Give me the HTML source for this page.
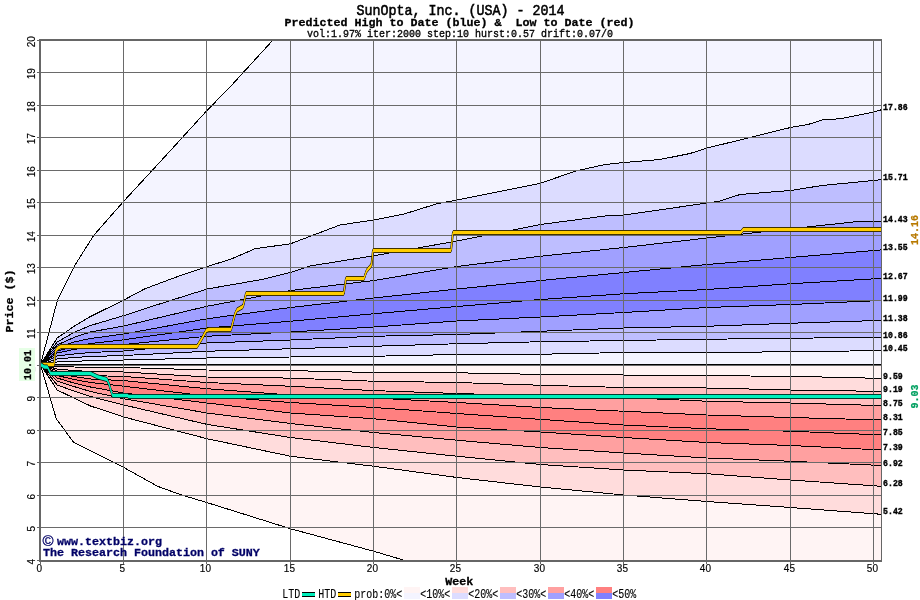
<!DOCTYPE html>
<html lang="en"><head><meta charset="utf-8"><title>SunOpta, Inc. (USA) - 2014</title>
<style>
html,body{margin:0;padding:0;background:#fff;}
body{width:920px;height:600px;overflow:hidden;}
svg{display:block;}
text{font-family:"Liberation Mono",monospace;white-space:pre;}
.t{font-family:"Liberation Sans",sans-serif;font-size:10px;stroke:#000;stroke-width:0.15px;}
.b{font-weight:bold;}
</style></head><body>
<svg width="920" height="600" viewBox="0 0 920 600">
<rect width="920" height="600" fill="#fff"/>
<defs><clipPath id="pc"><rect x="40" y="40" width="841.5" height="520.5"/></clipPath></defs>
<g clip-path="url(#pc)">
<g shape-rendering="crispEdges" stroke="none">
<polygon fill="#f4f4ff" points="40.50,364.50 57.50,300.00 75.00,265.00 94.00,235.00 123.50,201.50 171.00,150.00 206.50,111.00 230.00,87.00 273.00,40.00 290.00,22.00 881.50,22.00 881.50,364.50 40.5,364.50"/>
<polygon fill="#dcdcff" points="40.50,364.50 57.17,338.00 73.83,326.50 90.50,316.50 123.83,300.00 145.00,288.75 175.00,277.50 207.17,266.50 230.00,259.50 255.00,248.75 290.50,243.75 340.00,225.00 373.83,220.00 405.00,213.75 437.00,203.75 457.17,200.00 540.50,183.25 575.00,171.25 605.00,164.50 623.83,162.50 660.00,159.50 690.00,153.50 707.17,148.00 750.00,137.50 790.50,127.50 808.00,124.50 822.00,120.00 840.00,118.75 873.75,112.00 881.50,109.70 881.50,364.50 40.5,364.50"/>
<polygon fill="#bebeff" points="40.50,364.50 57.17,342.00 73.83,332.50 90.50,325.50 123.83,315.60 150.00,307.00 207.17,289.00 230.00,285.00 262.00,279.50 290.50,272.50 310.00,266.00 373.83,255.75 457.17,241.00 540.50,224.50 605.00,216.00 623.83,215.00 690.00,205.50 707.17,203.00 720.00,201.00 740.00,194.50 790.50,190.50 822.00,185.50 881.50,179.70 881.50,364.50 40.5,364.50"/>
<polygon fill="#a0a0ff" points="40.50,364.50 57.17,345.00 73.83,337.50 90.50,332.00 123.83,326.00 207.17,306.25 290.50,290.50 373.83,280.50 457.17,266.50 540.50,256.25 623.83,247.50 707.17,238.00 790.50,228.75 860.00,221.30 881.50,221.40 881.50,364.50 40.5,364.50"/>
<polygon fill="#8080ff" points="40.50,364.50 57.17,348.00 73.83,342.00 90.50,338.50 123.83,334.00 207.17,318.75 290.50,307.50 373.83,298.00 457.17,289.00 540.50,280.50 623.83,272.50 707.17,264.50 790.50,257.50 881.50,249.90 881.50,364.50 40.5,364.50"/>
<polygon fill="#8080ff" points="40.50,364.50 57.17,351.00 73.83,346.50 90.50,343.50 123.83,339.75 207.17,328.00 290.50,321.25 373.83,313.75 457.17,306.50 540.50,299.50 623.83,293.75 707.17,289.50 790.50,283.75 881.50,278.40 881.50,364.50 40.5,364.50"/>
<polygon fill="#a0a0ff" points="40.50,364.50 57.17,353.00 73.83,349.50 90.50,347.00 123.83,344.50 207.17,336.25 290.50,332.00 373.83,327.00 457.17,321.00 540.50,317.00 623.83,312.50 707.17,307.50 790.50,304.50 881.50,300.50 881.50,364.50 40.5,364.50"/>
<polygon fill="#bebeff" points="40.50,364.50 57.17,356.00 73.83,354.00 90.50,352.50 123.83,351.00 207.17,343.00 290.50,340.00 373.83,336.25 457.17,334.50 540.50,331.25 623.83,328.00 707.17,326.25 790.50,323.25 881.50,320.40 881.50,364.50 40.5,364.50"/>
<polygon fill="#dcdcff" points="40.50,364.50 57.17,359.00 73.83,357.50 90.50,356.50 123.83,355.50 207.17,351.25 290.50,348.75 373.83,346.25 457.17,343.75 540.50,341.75 623.83,340.50 707.17,339.25 790.50,338.25 881.50,337.30 881.50,364.50 40.5,364.50"/>
<polygon fill="#f4f4ff" points="40.50,364.50 57.17,362.00 73.83,361.50 90.50,360.50 123.83,360.00 207.17,358.00 290.50,357.00 373.83,356.25 457.17,354.50 540.50,354.25 623.83,352.50 707.17,352.50 790.50,351.75 881.50,350.60 881.50,364.50 40.5,364.50"/>
<polygon fill="#fff4f4" points="40.50,364.50 56.25,418.75 73.75,442.50 123.75,467.50 157.50,486.25 180.00,494.50 206.75,502.50 290.50,528.75 373.75,551.25 405.00,560.50 440.00,571.00 881.50,571.00 881.50,364.50 40.5,364.50"/>
<polygon fill="#ffdcdc" points="40.50,364.50 57.17,390.00 73.83,398.00 90.50,406.00 123.83,417.00 207.17,438.75 290.50,456.25 373.83,466.25 457.17,477.50 540.50,487.00 623.83,495.00 707.17,501.50 790.50,507.50 881.50,514.30 881.50,364.50 40.5,364.50"/>
<polygon fill="#ffbebe" points="40.50,364.50 57.17,385.00 73.83,391.00 90.50,396.50 123.83,405.00 207.17,424.40 290.50,437.50 373.83,447.50 457.17,456.25 540.50,464.50 623.83,470.00 707.17,473.75 790.50,480.00 881.50,486.30 881.50,364.50 40.5,364.50"/>
<polygon fill="#ffa0a0" points="40.50,364.50 57.17,381.00 73.83,386.50 90.50,391.50 123.83,398.75 207.17,413.00 290.50,423.50 373.83,432.50 457.17,440.25 540.50,447.50 623.83,453.00 707.17,458.00 790.50,461.25 881.50,465.50 881.50,364.50 40.5,364.50"/>
<polygon fill="#ff8080" points="40.50,364.50 57.17,378.00 73.83,383.00 90.50,387.00 123.83,393.00 207.17,403.00 290.50,413.00 373.83,418.75 457.17,427.00 540.50,432.00 623.83,437.50 707.17,442.50 790.50,445.50 881.50,450.00 881.50,364.50 40.5,364.50"/>
<polygon fill="#ff8080" points="40.50,364.50 57.17,375.50 73.83,379.50 90.50,382.50 123.83,386.25 207.17,396.00 290.50,402.50 373.83,407.50 457.17,413.50 540.50,419.40 623.83,425.00 707.17,428.75 790.50,431.25 881.50,434.90 881.50,364.50 40.5,364.50"/>
<polygon fill="#ffa0a0" points="40.50,364.50 57.17,373.00 73.83,376.50 90.50,379.00 123.83,380.60 207.17,388.75 290.50,395.00 373.83,398.00 457.17,402.50 540.50,407.50 623.83,411.25 707.17,415.00 790.50,417.50 881.50,420.00 881.50,364.50 40.5,364.50"/>
<polygon fill="#ffbebe" points="40.50,364.50 57.17,371.00 73.83,373.50 90.50,375.50 123.83,376.50 207.17,382.50 290.50,386.25 373.83,390.60 457.17,393.50 540.50,396.00 623.83,397.50 707.17,401.25 790.50,403.00 881.50,405.60 881.50,364.50 40.5,364.50"/>
<polygon fill="#ffdcdc" points="40.50,364.50 57.17,369.00 73.83,370.50 90.50,371.50 123.83,372.00 207.17,377.00 290.50,378.10 373.83,381.25 457.17,382.50 540.50,385.25 623.83,387.50 707.17,388.00 790.50,390.00 881.50,391.40 881.50,364.50 40.5,364.50"/>
<polygon fill="#fff4f4" points="40.50,364.50 57.17,366.50 73.83,367.00 90.50,367.30 123.83,367.50 207.17,370.00 290.50,370.60 373.83,372.50 457.17,372.80 540.50,374.40 623.83,375.00 707.17,375.75 790.50,376.25 881.50,378.40 881.50,364.50 40.5,364.50"/>
</g>
<g shape-rendering="crispEdges" stroke="#000" stroke-width="1" fill="none">
<polyline points="40.50,364.50 57.50,300.00 75.00,265.00 94.00,235.00 123.50,201.50 171.00,150.00 206.50,111.00 230.00,87.00 273.00,40.00 290.00,22.00 881.50,22.00"/>
<polyline points="40.50,364.50 57.17,338.00 73.83,326.50 90.50,316.50 123.83,300.00 145.00,288.75 175.00,277.50 207.17,266.50 230.00,259.50 255.00,248.75 290.50,243.75 340.00,225.00 373.83,220.00 405.00,213.75 437.00,203.75 457.17,200.00 540.50,183.25 575.00,171.25 605.00,164.50 623.83,162.50 660.00,159.50 690.00,153.50 707.17,148.00 750.00,137.50 790.50,127.50 808.00,124.50 822.00,120.00 840.00,118.75 873.75,112.00 881.50,109.70"/>
<polyline points="40.50,364.50 57.17,342.00 73.83,332.50 90.50,325.50 123.83,315.60 150.00,307.00 207.17,289.00 230.00,285.00 262.00,279.50 290.50,272.50 310.00,266.00 373.83,255.75 457.17,241.00 540.50,224.50 605.00,216.00 623.83,215.00 690.00,205.50 707.17,203.00 720.00,201.00 740.00,194.50 790.50,190.50 822.00,185.50 881.50,179.70"/>
<polyline points="40.50,364.50 57.17,345.00 73.83,337.50 90.50,332.00 123.83,326.00 207.17,306.25 290.50,290.50 373.83,280.50 457.17,266.50 540.50,256.25 623.83,247.50 707.17,238.00 790.50,228.75 860.00,221.30 881.50,221.40"/>
<polyline points="40.50,364.50 57.17,348.00 73.83,342.00 90.50,338.50 123.83,334.00 207.17,318.75 290.50,307.50 373.83,298.00 457.17,289.00 540.50,280.50 623.83,272.50 707.17,264.50 790.50,257.50 881.50,249.90"/>
<polyline points="40.50,364.50 57.17,351.00 73.83,346.50 90.50,343.50 123.83,339.75 207.17,328.00 290.50,321.25 373.83,313.75 457.17,306.50 540.50,299.50 623.83,293.75 707.17,289.50 790.50,283.75 881.50,278.40"/>
<polyline points="40.50,364.50 57.17,353.00 73.83,349.50 90.50,347.00 123.83,344.50 207.17,336.25 290.50,332.00 373.83,327.00 457.17,321.00 540.50,317.00 623.83,312.50 707.17,307.50 790.50,304.50 881.50,300.50"/>
<polyline points="40.50,364.50 57.17,356.00 73.83,354.00 90.50,352.50 123.83,351.00 207.17,343.00 290.50,340.00 373.83,336.25 457.17,334.50 540.50,331.25 623.83,328.00 707.17,326.25 790.50,323.25 881.50,320.40"/>
<polyline points="40.50,364.50 57.17,359.00 73.83,357.50 90.50,356.50 123.83,355.50 207.17,351.25 290.50,348.75 373.83,346.25 457.17,343.75 540.50,341.75 623.83,340.50 707.17,339.25 790.50,338.25 881.50,337.30"/>
<polyline points="40.50,364.50 57.17,362.00 73.83,361.50 90.50,360.50 123.83,360.00 207.17,358.00 290.50,357.00 373.83,356.25 457.17,354.50 540.50,354.25 623.83,352.50 707.17,352.50 790.50,351.75 881.50,350.60"/>
<polyline points="40.50,364.50 56.25,418.75 73.75,442.50 123.75,467.50 157.50,486.25 180.00,494.50 206.75,502.50 290.50,528.75 373.75,551.25 405.00,560.50 440.00,571.00 881.50,571.00"/>
<polyline points="40.50,364.50 57.17,390.00 73.83,398.00 90.50,406.00 123.83,417.00 207.17,438.75 290.50,456.25 373.83,466.25 457.17,477.50 540.50,487.00 623.83,495.00 707.17,501.50 790.50,507.50 881.50,514.30"/>
<polyline points="40.50,364.50 57.17,385.00 73.83,391.00 90.50,396.50 123.83,405.00 207.17,424.40 290.50,437.50 373.83,447.50 457.17,456.25 540.50,464.50 623.83,470.00 707.17,473.75 790.50,480.00 881.50,486.30"/>
<polyline points="40.50,364.50 57.17,381.00 73.83,386.50 90.50,391.50 123.83,398.75 207.17,413.00 290.50,423.50 373.83,432.50 457.17,440.25 540.50,447.50 623.83,453.00 707.17,458.00 790.50,461.25 881.50,465.50"/>
<polyline points="40.50,364.50 57.17,378.00 73.83,383.00 90.50,387.00 123.83,393.00 207.17,403.00 290.50,413.00 373.83,418.75 457.17,427.00 540.50,432.00 623.83,437.50 707.17,442.50 790.50,445.50 881.50,450.00"/>
<polyline points="40.50,364.50 57.17,375.50 73.83,379.50 90.50,382.50 123.83,386.25 207.17,396.00 290.50,402.50 373.83,407.50 457.17,413.50 540.50,419.40 623.83,425.00 707.17,428.75 790.50,431.25 881.50,434.90"/>
<polyline points="40.50,364.50 57.17,373.00 73.83,376.50 90.50,379.00 123.83,380.60 207.17,388.75 290.50,395.00 373.83,398.00 457.17,402.50 540.50,407.50 623.83,411.25 707.17,415.00 790.50,417.50 881.50,420.00"/>
<polyline points="40.50,364.50 57.17,371.00 73.83,373.50 90.50,375.50 123.83,376.50 207.17,382.50 290.50,386.25 373.83,390.60 457.17,393.50 540.50,396.00 623.83,397.50 707.17,401.25 790.50,403.00 881.50,405.60"/>
<polyline points="40.50,364.50 57.17,369.00 73.83,370.50 90.50,371.50 123.83,372.00 207.17,377.00 290.50,378.10 373.83,381.25 457.17,382.50 540.50,385.25 623.83,387.50 707.17,388.00 790.50,390.00 881.50,391.40"/>
<polyline points="40.50,364.50 57.17,366.50 73.83,367.00 90.50,367.30 123.83,367.50 207.17,370.00 290.50,370.60 373.83,372.50 457.17,372.80 540.50,374.40 623.83,375.00 707.17,375.75 790.50,376.25 881.50,378.40"/>
<line x1="40" y1="364.5" x2="882" y2="364.5" stroke-width="2"/>
</g>
<g shape-rendering="crispEdges" stroke="#6a6a6a" stroke-width="1" fill="none">
<line x1="123.5" y1="40" x2="123.5" y2="561"/>
<line x1="206.5" y1="40" x2="206.5" y2="561"/>
<line x1="290.5" y1="40" x2="290.5" y2="561"/>
<line x1="373.5" y1="40" x2="373.5" y2="561"/>
<line x1="456.5" y1="40" x2="456.5" y2="561"/>
<line x1="540.5" y1="40" x2="540.5" y2="561"/>
<line x1="623.5" y1="40" x2="623.5" y2="561"/>
<line x1="706.5" y1="40" x2="706.5" y2="561"/>
<line x1="790.5" y1="40" x2="790.5" y2="561"/>
<line x1="873.5" y1="40" x2="873.5" y2="561"/>
<line x1="40" y1="527.5" x2="882" y2="527.5"/>
<line x1="40" y1="495.5" x2="882" y2="495.5"/>
<line x1="40" y1="462.5" x2="882" y2="462.5"/>
<line x1="40" y1="430.5" x2="882" y2="430.5"/>
<line x1="40" y1="397.5" x2="882" y2="397.5"/>
<line x1="40" y1="365.5" x2="882" y2="365.5"/>
<line x1="40" y1="332.5" x2="882" y2="332.5"/>
<line x1="40" y1="300.5" x2="882" y2="300.5"/>
<line x1="40" y1="267.5" x2="882" y2="267.5"/>
<line x1="40" y1="235.5" x2="882" y2="235.5"/>
<line x1="40" y1="202.5" x2="882" y2="202.5"/>
<line x1="40" y1="170.5" x2="882" y2="170.5"/>
<line x1="40" y1="137.5" x2="882" y2="137.5"/>
<line x1="40" y1="105.5" x2="882" y2="105.5"/>
<line x1="40" y1="72.5" x2="882" y2="72.5"/>
</g>
<g>
<polygon points="40.50,361.90 54.00,361.90 55.50,348.40 58.00,345.40 61.00,343.90 197.00,343.90 202.50,334.90 206.25,327.90 208.75,326.90 231.00,326.90 235.00,311.40 237.00,307.40 243.00,303.90 245.00,295.40 246.00,290.90 343.75,290.90 346.00,275.90 364.00,275.90 366.50,268.40 371.50,262.40 373.00,247.90 451.00,247.90 453.00,229.90 740.75,229.90 743.25,226.90 881.00,226.90 881.00,232.10 743.25,232.10 740.75,235.10 453.00,235.10 451.00,253.10 373.00,253.10 371.50,267.60 366.50,273.60 364.00,281.10 346.00,281.10 343.75,296.10 246.00,296.10 245.00,300.60 243.00,309.10 237.00,312.60 235.00,316.60 231.00,332.10 208.75,332.10 206.25,333.10 202.50,340.10 197.00,349.10 61.00,349.10 58.00,350.60 55.50,353.60 54.00,367.10 40.50,367.10" fill="#000"/>
<polyline points="40.50,364.50 54.00,364.50 55.50,351.00 58.00,348.00 61.00,346.50 197.00,346.50 202.50,337.50 206.25,330.50 208.75,329.50 231.00,329.50 235.00,314.00 237.00,310.00 243.00,306.50 245.00,298.00 246.00,293.50 343.75,293.50 346.00,278.50 364.00,278.50 366.50,271.00 371.50,265.00 373.00,250.50 451.00,250.50 453.00,232.50 740.75,232.50 743.25,229.50 881.00,229.50" fill="none" stroke="#000" stroke-width="2"/>
<polygon points="40.50,362.80 54.00,362.80 55.50,349.30 58.00,346.30 61.00,344.80 197.00,344.80 202.50,335.80 206.25,328.80 208.75,327.80 231.00,327.80 235.00,312.30 237.00,308.30 243.00,304.80 245.00,296.30 246.00,291.80 343.75,291.80 346.00,276.80 364.00,276.80 366.50,269.30 371.50,263.30 373.00,248.80 451.00,248.80 453.00,230.80 740.75,230.80 743.25,227.80 881.00,227.80 881.00,231.20 743.25,231.20 740.75,234.20 453.00,234.20 451.00,252.20 373.00,252.20 371.50,266.70 366.50,272.70 364.00,280.20 346.00,280.20 343.75,295.20 246.00,295.20 245.00,299.70 243.00,308.20 237.00,311.70 235.00,315.70 231.00,331.20 208.75,331.20 206.25,332.20 202.50,339.20 197.00,348.20 61.00,348.20 58.00,349.70 55.50,352.70 54.00,366.20 40.50,366.20" fill="#ffcc00"/>
<polyline points="40.50,364.50 54.00,364.50 55.50,351.00 58.00,348.00 61.00,346.50 197.00,346.50 202.50,337.50 206.25,330.50 208.75,329.50 231.00,329.50 235.00,314.00 237.00,310.00 243.00,306.50 245.00,298.00 246.00,293.50 343.75,293.50 346.00,278.50 364.00,278.50 366.50,271.00 371.50,265.00 373.00,250.50 451.00,250.50 453.00,232.50 740.75,232.50 743.25,229.50 881.00,229.50" fill="none" stroke="#ffcc00" stroke-width="1"/>
<polygon points="40.50,361.90 44.40,364.40 47.50,364.40 50.60,370.90 90.60,370.90 98.00,374.40 107.00,376.90 109.00,381.40 112.50,392.90 127.50,392.90 128.50,393.90 881.00,393.90 881.00,399.10 128.50,399.10 127.50,398.10 112.50,398.10 109.00,386.60 107.00,382.10 98.00,379.60 90.60,376.10 50.60,376.10 47.50,369.60 44.40,369.60 40.50,367.10" fill="#000"/>
<polyline points="40.50,364.50 44.40,367.00 47.50,367.00 50.60,373.50 90.60,373.50 98.00,377.00 107.00,379.50 109.00,384.00 112.50,395.50 127.50,395.50 128.50,396.50 881.00,396.50" fill="none" stroke="#000" stroke-width="2"/>
<polygon points="40.50,362.80 44.40,365.30 47.50,365.30 50.60,371.80 90.60,371.80 98.00,375.30 107.00,377.80 109.00,382.30 112.50,393.80 127.50,393.80 128.50,394.80 881.00,394.80 881.00,398.20 128.50,398.20 127.50,397.20 112.50,397.20 109.00,385.70 107.00,381.20 98.00,378.70 90.60,375.20 50.60,375.20 47.50,368.70 44.40,368.70 40.50,366.20" fill="#00eebb"/>
<polyline points="40.50,364.50 44.40,367.00 47.50,367.00 50.60,373.50 90.60,373.50 98.00,377.00 107.00,379.50 109.00,384.00 112.50,395.50 127.50,395.50 128.50,396.50 881.00,396.50" fill="none" stroke="#00eebb" stroke-width="1"/>
</g>
</g>
<g shape-rendering="crispEdges" fill="#666">
<rect x="39" y="39" width="843" height="2"/>
<rect x="39" y="39" width="2" height="523"/>
<rect x="39" y="560" width="843" height="2"/>
<rect x="881" y="39" width="1" height="523"/>
<rect x="37" y="560" width="3" height="1"/>
<rect x="37" y="527" width="3" height="1"/>
<rect x="37" y="495" width="3" height="1"/>
<rect x="37" y="462" width="3" height="1"/>
<rect x="37" y="430" width="3" height="1"/>
<rect x="37" y="397" width="3" height="1"/>
<rect x="37" y="365" width="3" height="1"/>
<rect x="37" y="332" width="3" height="1"/>
<rect x="37" y="300" width="3" height="1"/>
<rect x="37" y="267" width="3" height="1"/>
<rect x="37" y="235" width="3" height="1"/>
<rect x="37" y="202" width="3" height="1"/>
<rect x="37" y="170" width="3" height="1"/>
<rect x="37" y="137" width="3" height="1"/>
<rect x="37" y="105" width="3" height="1"/>
<rect x="37" y="72" width="3" height="1"/>
<rect x="37" y="40" width="3" height="1"/>
<rect x="37" y="365" width="3" height="1"/>
<rect x="40" y="561" width="1" height="3"/>
<rect x="123" y="561" width="1" height="3"/>
<rect x="206" y="561" width="1" height="3"/>
<rect x="290" y="561" width="1" height="3"/>
<rect x="373" y="561" width="1" height="3"/>
<rect x="456" y="561" width="1" height="3"/>
<rect x="540" y="561" width="1" height="3"/>
<rect x="623" y="561" width="1" height="3"/>
<rect x="706" y="561" width="1" height="3"/>
<rect x="790" y="561" width="1" height="3"/>
<rect x="873" y="561" width="1" height="3"/>
</g>
<text transform="translate(460.5,14.6) scale(1,1.12)" font-size="13.33" text-anchor="middle" stroke="#000" stroke-width="0.5">SunOpta, Inc. (USA) - 2014</text>
<text transform="translate(459.5,26.1) scale(1,0.95)" font-size="11.67" font-weight="bold" text-anchor="middle" stroke="#000" stroke-width="0.3">Predicted High to Date (blue) &amp;  Low to Date (red)</text>
<text transform="translate(460,36.6) scale(1,1.06)" font-size="10" text-anchor="middle" stroke="#000" stroke-width="0.3">vol:1.97% iter:2000 step:10 hurst:0.57 drift:0.07/0</text>
<text transform="translate(13.3,301) rotate(-90) scale(1,0.88)" font-size="11.67" font-weight="bold" text-anchor="middle" stroke="#000" stroke-width="0.3">Price ($)</text>
<text transform="translate(459.3,584.8) scale(1,0.91)" font-size="11.67" font-weight="bold" text-anchor="middle" stroke="#000" stroke-width="0.3">Week</text>
<text transform="translate(39.4,571.6)" class="t" text-anchor="middle">0</text>
<text transform="translate(122.4,571.6)" class="t" text-anchor="middle">5</text>
<text transform="translate(205.4,571.6)" class="t" text-anchor="middle">10</text>
<text transform="translate(289.4,571.6)" class="t" text-anchor="middle">15</text>
<text transform="translate(372.4,571.6)" class="t" text-anchor="middle">20</text>
<text transform="translate(455.4,571.6)" class="t" text-anchor="middle">25</text>
<text transform="translate(539.4,571.6)" class="t" text-anchor="middle">30</text>
<text transform="translate(622.4,571.6)" class="t" text-anchor="middle">35</text>
<text transform="translate(705.4,571.6)" class="t" text-anchor="middle">40</text>
<text transform="translate(789.4,571.6)" class="t" text-anchor="middle">45</text>
<text transform="translate(872.4,571.6)" class="t" text-anchor="middle">50</text>
<text transform="translate(34.5,561.75) rotate(-90)" class="t" text-anchor="middle">4</text>
<text transform="translate(34.5,528.75) rotate(-90)" class="t" text-anchor="middle">5</text>
<text transform="translate(34.5,496.75) rotate(-90)" class="t" text-anchor="middle">6</text>
<text transform="translate(34.5,463.75) rotate(-90)" class="t" text-anchor="middle">7</text>
<text transform="translate(34.5,431.75) rotate(-90)" class="t" text-anchor="middle">8</text>
<text transform="translate(34.5,398.75) rotate(-90)" class="t" text-anchor="middle">9</text>
<text transform="translate(34.5,366.75) rotate(-90)" class="t" text-anchor="middle">10</text>
<text transform="translate(34.5,333.75) rotate(-90)" class="t" text-anchor="middle">11</text>
<text transform="translate(34.5,301.75) rotate(-90)" class="t" text-anchor="middle">12</text>
<text transform="translate(34.5,268.75) rotate(-90)" class="t" text-anchor="middle">13</text>
<text transform="translate(34.5,236.75) rotate(-90)" class="t" text-anchor="middle">14</text>
<text transform="translate(34.5,203.75) rotate(-90)" class="t" text-anchor="middle">15</text>
<text transform="translate(34.5,171.75) rotate(-90)" class="t" text-anchor="middle">16</text>
<text transform="translate(34.5,138.75) rotate(-90)" class="t" text-anchor="middle">17</text>
<text transform="translate(34.5,106.75) rotate(-90)" class="t" text-anchor="middle">18</text>
<text transform="translate(34.5,73.75) rotate(-90)" class="t" text-anchor="middle">19</text>
<text transform="translate(34.5,41.75) rotate(-90)" class="t" text-anchor="middle">20</text>
<text transform="translate(883.1,110) scale(1,1.05)" font-size="8.2" font-weight="bold" stroke="#000" stroke-width="0.35">17.86</text>
<text transform="translate(883.1,180) scale(1,1.05)" font-size="8.2" font-weight="bold" stroke="#000" stroke-width="0.35">15.71</text>
<text transform="translate(883.1,222) scale(1,1.05)" font-size="8.2" font-weight="bold" stroke="#000" stroke-width="0.35">14.43</text>
<text transform="translate(883.1,250) scale(1,1.05)" font-size="8.2" font-weight="bold" stroke="#000" stroke-width="0.35">13.55</text>
<text transform="translate(883.1,279) scale(1,1.05)" font-size="8.2" font-weight="bold" stroke="#000" stroke-width="0.35">12.67</text>
<text transform="translate(883.1,301) scale(1,1.05)" font-size="8.2" font-weight="bold" stroke="#000" stroke-width="0.35">11.99</text>
<text transform="translate(883.1,321) scale(1,1.05)" font-size="8.2" font-weight="bold" stroke="#000" stroke-width="0.35">11.38</text>
<text transform="translate(883.1,338) scale(1,1.05)" font-size="8.2" font-weight="bold" stroke="#000" stroke-width="0.35">10.86</text>
<text transform="translate(883.1,351) scale(1,1.05)" font-size="8.2" font-weight="bold" stroke="#000" stroke-width="0.35">10.45</text>
<text transform="translate(883.1,379) scale(1,1.05)" font-size="8.2" font-weight="bold" stroke="#000" stroke-width="0.35">9.59</text>
<text transform="translate(883.1,392) scale(1,1.05)" font-size="8.2" font-weight="bold" stroke="#000" stroke-width="0.35">9.19</text>
<text transform="translate(883.1,406) scale(1,1.05)" font-size="8.2" font-weight="bold" stroke="#000" stroke-width="0.35">8.75</text>
<text transform="translate(883.1,420) scale(1,1.05)" font-size="8.2" font-weight="bold" stroke="#000" stroke-width="0.35">8.31</text>
<text transform="translate(883.1,435) scale(1,1.05)" font-size="8.2" font-weight="bold" stroke="#000" stroke-width="0.35">7.85</text>
<text transform="translate(883.1,450) scale(1,1.05)" font-size="8.2" font-weight="bold" stroke="#000" stroke-width="0.35">7.39</text>
<text transform="translate(883.1,466) scale(1,1.05)" font-size="8.2" font-weight="bold" stroke="#000" stroke-width="0.35">6.92</text>
<text transform="translate(883.1,486) scale(1,1.05)" font-size="8.2" font-weight="bold" stroke="#000" stroke-width="0.35">6.28</text>
<text transform="translate(883.1,514) scale(1,1.05)" font-size="8.2" font-weight="bold" stroke="#000" stroke-width="0.35">5.42</text>
<text transform="translate(918.3,230) rotate(-90) scale(1,1.08)" font-size="10" font-weight="bold" text-anchor="middle" fill="#b87a00" stroke="#b87a00" stroke-width="0.25">14.16</text>
<text transform="translate(918.3,396.5) rotate(-90) scale(1,1.08)" font-size="10" font-weight="bold" text-anchor="middle" fill="#00a060" stroke="#00a060" stroke-width="0.25">9.03</text>
<rect x="19" y="348" width="16" height="33" fill="#e6ffe6"/>
<text transform="translate(31.3,365) rotate(-90) scale(1,1.08)" font-size="10" font-weight="bold" text-anchor="middle" stroke="#000" stroke-width="0.25">10.01</text>
<text transform="translate(42.5,546.3)" style="font-family:'Liberation Sans',sans-serif" font-size="15" fill="#000066" stroke="#000066" stroke-width="0.3">©</text>
<text transform="translate(57,544.7)" font-size="11.67" font-weight="bold" fill="#000066" stroke="#000066" stroke-width="0.3">www.textbiz.org</text>
<text transform="translate(43,556.2)" font-size="11.67" font-weight="bold" fill="#000066" stroke="#000066" stroke-width="0.3">The Research Foundation of SUNY</text>
<text transform="translate(282.2,597.5) scale(1,1.22)" font-size="10" stroke="#000" stroke-width="0.1">LTD</text>
<text transform="translate(318.2,597.5) scale(1,1.22)" font-size="10" stroke="#000" stroke-width="0.1">HTD</text>
<text transform="translate(354.2,597.5) scale(1,1.22)" font-size="10" stroke="#000" stroke-width="0.1">prob:0%&lt;</text>
<g shape-rendering="crispEdges">
<rect x="302" y="592" width="13" height="5" fill="#000"/><rect x="302" y="593" width="13" height="3" fill="#00eebb"/>
<rect x="338" y="592" width="13" height="5" fill="#000"/><rect x="338" y="593" width="13" height="3" fill="#ffcc00"/>
<rect x="404" y="587" width="16" height="6" fill="#fff4f4"/>
<rect x="404" y="593" width="16" height="6" fill="#f4f4ff"/>
<rect x="452" y="587" width="16" height="6" fill="#ffdcdc"/>
<rect x="452" y="593" width="16" height="6" fill="#dcdcff"/>
<rect x="500" y="587" width="16" height="6" fill="#ffbebe"/>
<rect x="500" y="593" width="16" height="6" fill="#bebeff"/>
<rect x="548" y="587" width="16" height="6" fill="#ffa0a0"/>
<rect x="548" y="593" width="16" height="6" fill="#a0a0ff"/>
<rect x="596" y="587" width="16" height="6" fill="#ff8080"/>
<rect x="596" y="593" width="16" height="6" fill="#8080ff"/>
</g>
<text transform="translate(420.2,597.5) scale(1,1.22)" font-size="10" stroke="#000" stroke-width="0.1">&lt;10%&lt;</text>
<text transform="translate(468.2,597.5) scale(1,1.22)" font-size="10" stroke="#000" stroke-width="0.1">&lt;20%&lt;</text>
<text transform="translate(516.2,597.5) scale(1,1.22)" font-size="10" stroke="#000" stroke-width="0.1">&lt;30%&lt;</text>
<text transform="translate(564.2,597.5) scale(1,1.22)" font-size="10" stroke="#000" stroke-width="0.1">&lt;40%&lt;</text>
<text transform="translate(612.2,597.5) scale(1,1.22)" font-size="10" stroke="#000" stroke-width="0.1">&lt;50%</text>
</svg>
</body></html>
